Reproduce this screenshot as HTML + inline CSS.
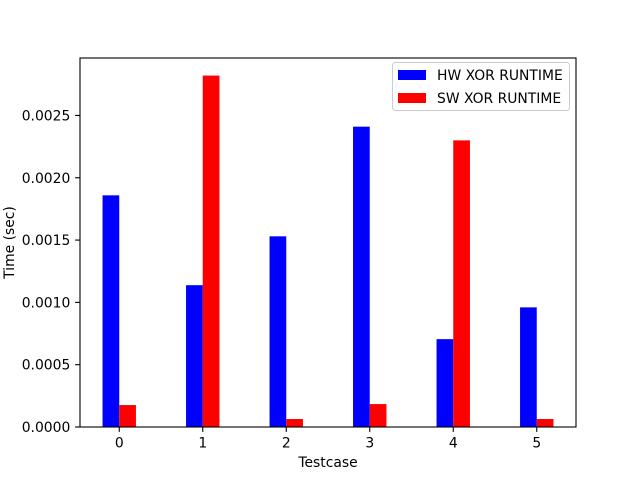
<!DOCTYPE html>
<html><head><meta charset="utf-8"><style>
body{margin:0;background:#fff;}
svg{display:block;font-family:"DejaVu Sans","Liberation Sans",sans-serif;}
</style></head><body>
<svg id="chart" width="640" height="480">
<rect width="640" height="480" fill="#fff"/>
<g id="plot"></g>
</svg>
<script>
const categories=["0","1","2","3","4","5"];
const hwValues=[0.001859,0.001138,0.00153,0.00241,0.000705,0.00096];
const swValues=[0.000176,0.00282,0.000064,0.000184,0.0023,0.000064];
const yTicks=[0,0.0005,0.001,0.0015,0.002,0.0025];
const yTickLabels=["0.0000","0.0005","0.0010","0.0015","0.0020","0.0025"];
const seriesNames=["HW XOR RUNTIME","SW XOR RUNTIME"];

const L=80,R=576,T=58,B=427;
const FS=13.9;
const ns="http://www.w3.org/2000/svg";
const g=document.getElementById('plot');
const xmin=-0.47,xmax=categories.length-1+0.47;
const ymax=Math.max(...hwValues,...swValues)*1.05;
const xs=v=>L+(v-xmin)/(xmax-xmin)*(R-L);
const ys=v=>B-v/ymax*(B-T);
function el(t,a,p){const e=document.createElementNS(ns,t);for(const k in a)e.setAttribute(k,a[k]);(p||g).appendChild(e);return e;}
const w=0.2;
categories.forEach((c,i)=>{
  const hx=xs(i-w),sx=xs(i);
  const b1=el('rect',{x:hx,y:ys(hwValues[i]),width:xs(i)-xs(i-w),height:B-ys(hwValues[i]),fill:'#0000ff'});
  
  
  const b2=el('rect',{x:sx,y:ys(swValues[i]),width:xs(i+w)-xs(i),height:B-ys(swValues[i]),fill:'#ff0000'});
  
  
  el('line',{x1:xs(i),x2:xs(i),y1:B,y2:B+4.9,stroke:'#000','stroke-width':1.1});
  const t=el('text',{x:xs(i),y:B+20.5,'text-anchor':'middle','font-size':FS});
  t.textContent=c;
  
  
});
yTicks.forEach((v,i)=>{
  el('line',{x1:L-4.9,x2:L,y1:ys(v),y2:ys(v),stroke:'#000','stroke-width':1.1});
  const t=el('text',{x:L-9.7,y:ys(v)+5,'text-anchor':'end','font-size':FS});
  t.textContent=yTickLabels[i];
  
  
});
const fr=el('rect',{x:L,y:T,width:R-L,height:B-T,fill:'none',stroke:'#000','stroke-width':1.1});


const xt=el('text',{x:(L+R)/2,y:467,'text-anchor':'middle','font-size':FS});
xt.textContent='Testcase';


const yt=el('text',{x:0,y:0,'text-anchor':'middle','font-size':FS,transform:`translate(14,${(T+B)/2}) rotate(-90)`});
yt.textContent='Time (sec)';


const lg=el('g',{});


el('rect',{x:392.5,y:62.5,width:177,height:48,rx:3,fill:'#fff','fill-opacity':0.8,stroke:'#ccc'},lg);
const cols=['#0000ff','#ff0000'];
seriesNames.forEach((n,i)=>{
  const y=70+i*23;
  el('rect',{x:398,y:y,width:28,height:10,fill:cols[i]},lg);
  const t=el('text',{x:437,y:y+10,'font-size':FS},lg);
  t.textContent=n;
  
  
});
</script>
</body></html>
